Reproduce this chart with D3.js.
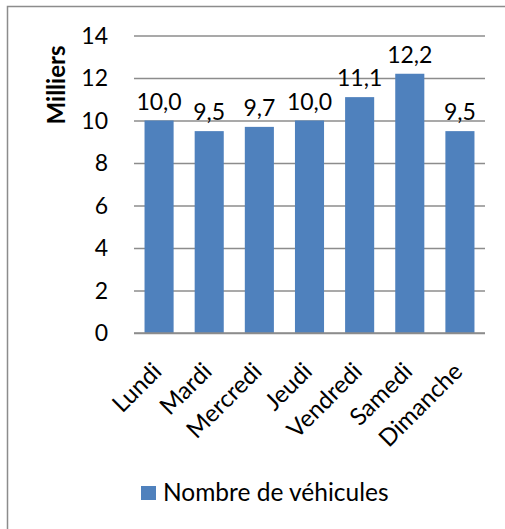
<!DOCTYPE html>
<html>
<head>
<meta charset="utf-8">
<script src="https://cdn.jsdelivr.net/npm/d3@7"></script>
<style>
  body { margin: 0; background: #fff; }
  text { font-family: Lato, "Open Sans", sans-serif; fill: #000; }
</style>
</head>
<body>
<svg id="chart" width="505" height="529"></svg>
<script>
// Data
const days = ['Lundi', 'Mardi', 'Mercredi', 'Jeudi', 'Vendredi', 'Samedi', 'Dimanche'];
const vehicles = [10.0, 9.5, 9.7, 10.0, 11.1, 12.2, 9.5];
const yTicks = [0, 2, 4, 6, 8, 10, 12, 14];
const seriesName = 'Nombre de véhicules';
const yTitle = 'Milliers';

const svg = d3.select('#chart');
const barColor = '#4F81BD';
const gridColor = '#8c8c8c';

// Outer chart border
svg.append('rect')
  .attr('x', 7.5).attr('y', 6.5)
  .attr('width', 520).attr('height', 540)
  .attr('fill', 'none')
  .attr('stroke', gridColor)
  .attr('stroke-width', 1.5);

const plot = { left: 134, right: 485, top: 35.5, bottom: 333 };

const x = d3.scaleBand()
  .domain(days)
  .range([plot.left, plot.right])
  .paddingInner(0.42)
  .paddingOuter(0.21);

const y = d3.scaleLinear()
  .domain([0, 14])
  .range([plot.bottom, plot.top]);

// Grid lines
const yGrid = d3.axisLeft(y)
  .tickValues(yTicks)
  .tickSize(-(plot.right - plot.left))
  .tickFormat('');

const gridG = svg.append('g')
  .attr('transform', `translate(${plot.left},0)`)
  .call(yGrid);
gridG.select('.domain').remove();
gridG.selectAll('line')
  .attr('stroke', gridColor)
  .attr('stroke-width', 1.5);

// Y tick labels
svg.append('g')
  .selectAll('text')
  .data(yTicks)
  .join('text')
  .attr('x', plot.left - 26)
  .attr('y', d => y(d))
  .attr('dy', '0.36em')
  .attr('text-anchor', 'end')
  .style('font-size', '23px')
  .text(d => d);

// Y title
svg.append('text')
  .attr('transform', `translate(65,${(45 + 125) / 2}) rotate(-90)`)
  .attr('text-anchor', 'middle')
  .style('font-size', '24px')
  .style('font-weight', 'bold')
  .text(yTitle);

// Bars
svg.append('g')
  .selectAll('rect')
  .data(vehicles)
  .join('rect')
  .attr('x', (d, i) => x(days[i]))
  .attr('y', d => y(d))
  .attr('width', x.bandwidth())
  .attr('height', d => y(0) - y(d))
  .attr('fill', barColor);

// Value labels
const fmt = v => v.toFixed(1).replace('.', ',');
svg.append('g')
  .selectAll('text')
  .data(vehicles)
  .join('text')
  .attr('x', (d, i) => x(days[i]) + x.bandwidth() / 2)
  .attr('y', d => y(d) - 11)
  .attr('text-anchor', 'middle')
  .style('font-size', '23px')
  .text(fmt);

// X axis line
svg.append('line')
  .attr('x1', plot.left).attr('x2', plot.right)
  .attr('y1', plot.bottom).attr('y2', plot.bottom)
  .attr('stroke', gridColor)
  .attr('stroke-width', 1.5);

// Category labels, rotated
svg.append('g')
  .selectAll('text')
  .data(days)
  .join('text')
  .attr('transform', d => `translate(${x(d) + x.bandwidth() / 2 + 4},${plot.bottom + 40}) rotate(-45)`)
  .attr('text-anchor', 'end')
  .style('font-size', '24px')
  .text(d => d);

// Legend
const legend = svg.append('g').attr('transform', 'translate(141,486)');
legend.append('rect')
  .attr('width', 15).attr('height', 14)
  .attr('fill', barColor);
legend.append('text')
  .attr('x', 22)
  .attr('y', 15)
  .style('font-size', '24.5px')
  .text(seriesName);
</script>
</body>
</html>
